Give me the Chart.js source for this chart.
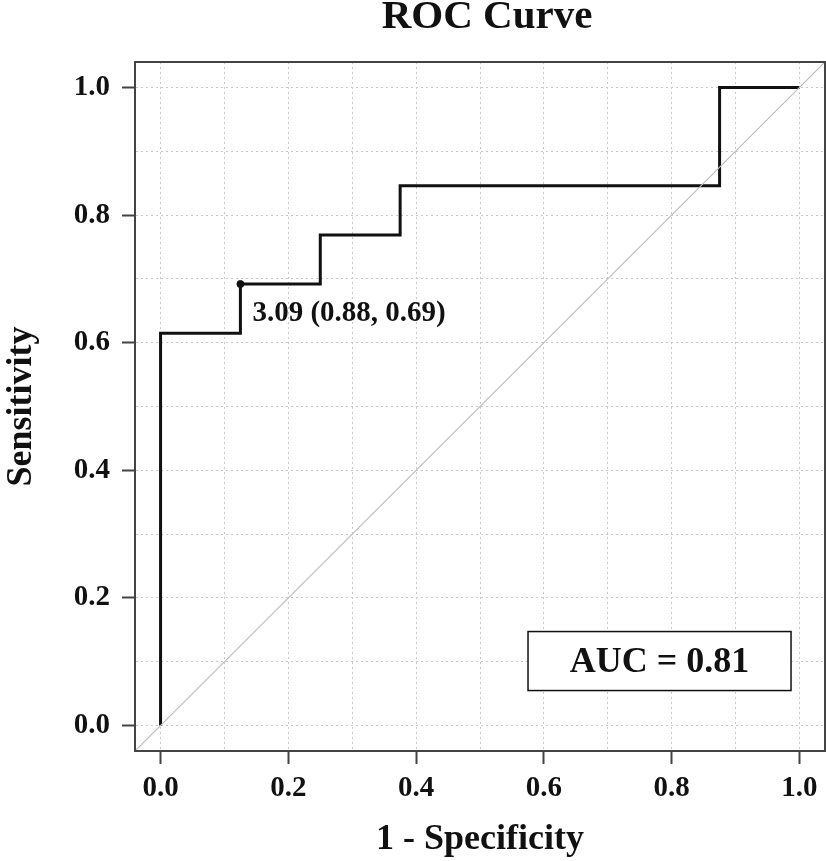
<!DOCTYPE html>
<html>
<head>
<meta charset="utf-8">
<title>ROC Curve</title>
<script src="https://cdn.jsdelivr.net/npm/chart.js@4/dist/chart.umd.min.js"></script>
<style>
	html, body { margin: 0; padding: 0; background: #fff; }
	#wrap { width: 826px; height: 861px; }
</style>
</head>
<body>
<div id="wrap"><canvas id="roc-graph"></canvas></div>
<script>
'use strict';

// ROC points (1 - specificity, sensitivity)
const fpr = [0, 0, 0.125, 0.125, 0.25, 0.25, 0.375, 0.375, 0.875, 0.875, 1];
const tpr = [0, 0.615, 0.615, 0.692, 0.692, 0.769, 0.769, 0.846, 0.846, 1, 1];

// best cut-off
const cutX = [0.125];
const cutY = [0.692];
const cutLabel = ['3.09 (0.88, 0.69)'];

const aucLabel = 'AUC = 0.81';
const gridValues = [0, 0.1, 0.2, 0.3, 0.4, 0.5, 0.6, 0.7, 0.8, 0.9, 1.0];
const axisMin = -0.04;
const axisMax = 1.04;

const serif = '"Liberation Serif", "Times New Roman", serif';

function toPoints(xs, ys) {
	return xs.map((x, i) => ({x: x, y: ys[i]}));
}

function isMajor(value) {
	return Math.round(value * 10) % 2 === 0;
}

function axisOptions(titleText, labelPadding) {
	return {
		type: 'linear',
		min: axisMin,
		max: axisMax,
		afterBuildTicks: (scale) => {
			scale.ticks = gridValues.map((v) => ({value: v}));
		},
		ticks: {
			autoSkip: false,
			maxRotation: 0,
			padding: labelPadding,
			color: '#111',
			font: {family: serif, size: 29, weight: 'bold'},
			callback: (value) => isMajor(value) ? value.toFixed(1) : ''
		},
		grid: {
			color: '#c8c8c8',
			lineWidth: 1,
			drawTicks: true,
			tickLength: 13,
			tickWidth: 2,
			tickBorderDash: [],
			tickColor: (ctx) => (ctx.tick && isMajor(ctx.tick.value)) ? '#444' : 'rgba(0,0,0,0)'
		},
		border: {
			display: true,
			color: '#444',
			width: 2,
			dash: [2, 3]
		},
		title: {
			display: true,
			text: titleText,
			color: '#111',
			padding: 0,
			font: {family: serif, size: 36, weight: 'bold', lineHeight: 1.2}
		}
	};
}

const boxPlugin = {
	id: 'boxPlugin',
	afterDraw(chart) {
		let ctx = chart.ctx;
		let area = chart.chartArea;
		let xs = chart.scales.x;
		let ys = chart.scales.y;

		ctx.save();

		// frame around the plot
		ctx.strokeStyle = '#444';
		ctx.lineWidth = 2;
		ctx.strokeRect(area.left, area.top, area.right - area.left, area.bottom - area.top);

		// title, over the plot
		ctx.fillStyle = '#111';
		ctx.textAlign = 'center';
		ctx.textBaseline = 'alphabetic';
		ctx.font = 'bold 41px ' + serif;
		ctx.fillText('ROC Curve', (area.left + area.right) / 2 + 7, 28);

		// cut-off label
		ctx.textAlign = 'left';
		ctx.textBaseline = 'middle';
		ctx.font = 'bold 29px ' + serif;
		ctx.fillText(cutLabel[0], xs.getPixelForValue(cutX[0]) + 12, ys.getPixelForValue(cutY[0]) + 30);

		// AUC box
		let cx = xs.getPixelForValue(0.781);
		let cy = ys.getPixelForValue(0.101);
		let w = 263;
		let h = 59;
		ctx.fillStyle = '#fff';
		ctx.fillRect(cx - w / 2, cy - h / 2, w, h);
		ctx.strokeStyle = '#111';
		ctx.lineWidth = 1.5;
		ctx.strokeRect(cx - w / 2, cy - h / 2, w, h);
		ctx.fillStyle = '#111';
		ctx.textAlign = 'center';
		ctx.font = 'bold 36px ' + serif;
		ctx.fillText(aucLabel, cx, cy + 2);

		ctx.restore();
	}
};

let xOpts = axisOptions('1 - Specificity', 7);
xOpts.afterFit = (scale) => {
	scale.height = 110;
	scale.paddingRight = 0;
	scale.paddingLeft = 0;
};
let yOpts = axisOptions('Sensitivity', 12);
yOpts.afterFit = (scale) => {
	scale.width = 135;
	scale.paddingTop = 0;
	scale.paddingBottom = 0;
};

let ctx = document.getElementById('roc-graph');
let chart = new Chart(ctx, {
	type: 'scatter',
	data: {
		datasets: [
			{
				label: 'reference',
				data: toPoints([axisMin, axisMax], [axisMin, axisMax]),
				showLine: true,
				borderColor: '#bdbdbd',
				borderWidth: 1.2,
				pointRadius: 0
			},
			{
				label: 'ROC',
				data: toPoints(fpr, tpr),
				showLine: true,
				borderColor: '#111',
				borderWidth: 3,
				pointRadius: 0
			},
			{
				label: 'cut-off',
				data: toPoints(cutX, cutY),
				showLine: false,
				backgroundColor: '#111',
				borderColor: '#111',
				pointRadius: 3.5
			}
		]
	},
	options: {
		responsive: true,
		maintainAspectRatio: false,
		animation: false,
		layout: {
			autoPadding: false,
			padding: {top: 62, right: 1, bottom: 0, left: 0}
		},
		plugins: {
			legend: {display: false},
			tooltip: {enabled: false}
		},
		scales: {
			x: xOpts,
			y: yOpts
		}
	},
	plugins: [boxPlugin]
});
</script>
</body>
</html>
